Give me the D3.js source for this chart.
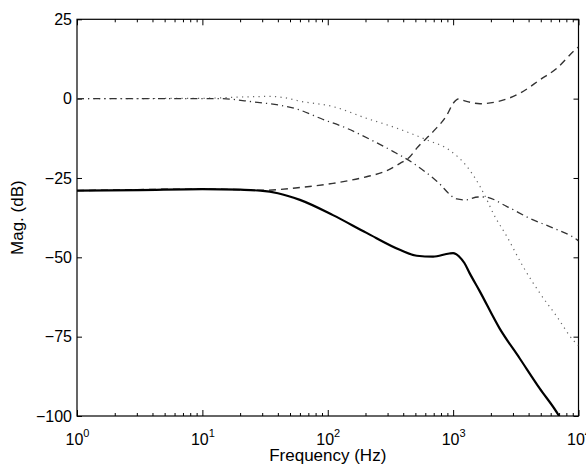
<!DOCTYPE html>
<html>
<head>
<meta charset="utf-8">
<script src="https://cdn.jsdelivr.net/npm/d3@7"></script>
<style>
  body { margin: 0; background: #fff; }
  svg { display: block; font-family: "Liberation Sans", Arial, Helvetica, sans-serif; }
  .axis path { display: none; }
  .axis line { stroke: #000; }
  .axis text { fill: #000; }
</style>
</head>
<body>
<script>
// frequency (Hz) and magnitude (dB) per curve
var solidFreq = [1, 3.16, 10, 20, 29, 40, 60, 110, 204, 380, 513, 692, 933, 1000, 1120, 1230, 1350, 1620, 2340, 3390, 4900, 6920, 7940];
var solidMag  = [-29.0, -28.8, -28.5, -28.7, -29.0, -29.8, -31.9, -36.7, -42.3, -47.7, -49.5, -49.8, -48.8, -48.7, -49.8, -51.8, -54.9, -60.5, -72.3, -81.8, -91.3, -99.7, -104];

var dashFreq = [1, 10, 20, 29, 60, 110, 204, 275, 377, 452, 513, 692, 891, 1000, 1100, 1260, 1640, 2230, 3410, 4920, 6730, 9350, 10000];
var dashMag  = [-29.0, -28.5, -28.7, -28.9, -28.0, -26.7, -24.6, -23.2, -20.4, -18.3, -15.6, -10.4, -5.2, -1.5, -0.1, -0.8, -1.6, -1.0, 1.7, 5.9, 9.6, 15.3, 16.3];

var dashDotFreq = [1, 10, 13.8, 24, 60, 91, 141, 219, 331, 479, 741, 1070, 1260, 1580, 1780, 2690, 4070, 6310, 9770, 10000];
var dashDotMag  = [0, 0, 0, -0.9, -3.6, -6.5, -9.3, -12.9, -16.6, -20.3, -26.0, -31.6, -31.9, -31.0, -31.0, -34.0, -37.7, -40.8, -44.5, -44.8];

var dotFreq = [1, 10, 20, 35, 45, 60, 110, 204, 355, 617, 933, 1290, 1640, 1860, 2080, 2690, 3610, 4920, 6730, 9020, 10000];
var dotMag  = [0, 0.1, 0.5, 0.7, 0.3, -0.8, -2.5, -6.2, -9.3, -13.0, -16.2, -21.4, -27.7, -31.9, -36.0, -43.5, -52.9, -61.3, -68.7, -76.0, -77.8];

var yTicks = [-100, -75, -50, -25, 0, 25];
var xDecades = [1, 10, 100, 1000, 10000];
var xLabel = "Frequency (Hz)";
var yLabel = "Mag. (dB)";

(function(){
    var w = 586, h = 467;
    var left = 77, right = 578.5, top = 19.3, bottom = 416;

    var svg = d3.select("body").append("svg")
        .attr("width", w)
        .attr("height", h);

    var x = d3.scaleLog().domain([1, 10000]).range([left, right]);
    var y = d3.scaleLinear().domain([-100, 25]).range([bottom, top]);

    // minor ticks 2..9 for each decade
    var minor = [];
    xDecades.slice(0, -1).forEach(function(d) {
        for (var k = 2; k < 10; k++) minor.push(d * k);
    });

    svg.append("clipPath").attr("id", "plot")
        .append("rect")
        .attr("x", left).attr("y", top)
        .attr("width", right - left).attr("height", bottom - top);

    // y axes (inward ticks on both sides)
    svg.append("g").attr("class", "axis")
        .attr("transform", "translate(" + left + ",0)")
        .call(d3.axisLeft(y).tickValues(yTicks).tickSize(-5).tickPadding(5)
            .tickFormat(function(d) { return d < 0 ? "\u2212" + Math.abs(d) : d; }))
        .attr("font-size", 16).attr("font-family", null);
    svg.append("g").attr("class", "axis")
        .attr("transform", "translate(" + right + ",0)")
        .call(d3.axisRight(y).tickValues(yTicks).tickSize(-5).tickFormat(""));

    // x axes: major and minor ticks, bottom and top
    svg.append("g").attr("class", "axis")
        .attr("transform", "translate(0," + bottom + ")")
        .call(d3.axisBottom(x).tickValues(minor).tickSize(-3).tickFormat(""));
    svg.append("g").attr("class", "axis")
        .attr("transform", "translate(0," + top + ")")
        .call(d3.axisTop(x).tickValues(minor).tickSize(-3).tickFormat(""));
    svg.append("g").attr("class", "axis")
        .attr("transform", "translate(0," + top + ")")
        .call(d3.axisTop(x).tickValues(xDecades).tickSize(-6).tickFormat(""));
    var xb = svg.append("g").attr("class", "axis")
        .attr("transform", "translate(0," + bottom + ")")
        .call(d3.axisBottom(x).tickValues(xDecades).tickSize(-6).tickFormat(""))
        .attr("font-size", 16).attr("font-family", null);

    xb.selectAll(".tick text").each(function(d) {
        var t = d3.select(this).attr("dy", null).attr("dx", null).attr("y", 29);
        t.append("tspan").text("10");
        t.append("tspan").attr("dy", -8).attr("font-size", 11)
            .text(Math.round(Math.log10(d)));
    });

    // box
    svg.append("rect")
        .attr("x", left).attr("y", top)
        .attr("width", right - left).attr("height", bottom - top)
        .attr("fill", "none").attr("stroke", "#000").attr("stroke-width", 1.2);

    // curves
    var line = d3.line()
        .x(function(d) { return x(d[0]); })
        .y(function(d) { return y(d[1]); })
        .curve(d3.curveMonotoneX);

    var curves = [
        { f: dotFreq, m: dotMag, color: "#666", width: 1.2, dash: "1.2,4.3" },
        { f: dashDotFreq, m: dashDotMag, color: "#333", width: 1.3, dash: "7,4,1.2,4" },
        { f: dashFreq, m: dashMag, color: "#333", width: 1.4, dash: "7,5" },
        { f: solidFreq, m: solidMag, color: "#000", width: 2.2, dash: null }
    ];

    svg.append("g").attr("clip-path", "url(#plot)")
        .selectAll("path")
        .data(curves)
        .enter()
        .append("path")
        .attr("d", function(c) { return line(d3.zip(c.f, c.m)); })
        .attr("fill", "none")
        .attr("stroke", function(c) { return c.color; })
        .attr("stroke-width", function(c) { return c.width; })
        .attr("stroke-dasharray", function(c) { return c.dash; });

    // axis labels
    svg.append("text")
        .attr("x", (left + right) / 2).attr("y", 461)
        .attr("text-anchor", "middle")
        .attr("font-size", 17)
        .text(xLabel);
    svg.append("text")
        .attr("transform", "translate(23," + ((top + bottom) / 2) + ") rotate(-90)")
        .attr("text-anchor", "middle")
        .attr("font-size", 17)
        .text(yLabel);
}());
</script>
</body>
</html>
